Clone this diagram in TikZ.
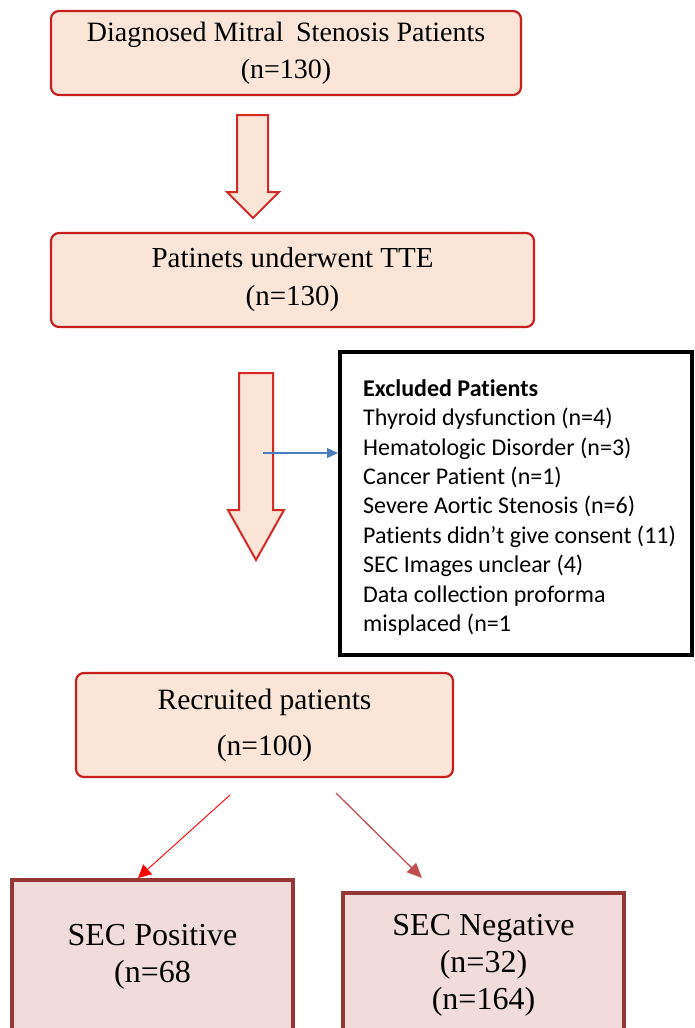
\documentclass[tikz,border=0pt]{standalone}
\usepackage{fontspec}
\setmainfont{Liberation Serif}
\newfontfamily\calibri[Ligatures=NoCommon]{Carlito}
\usetikzlibrary{arrows.meta}
\definecolor{boxred}{HTML}{C8201E}
\definecolor{peach}{HTML}{FBE5D6}
\definecolor{secborder}{HTML}{953735}
\definecolor{secfill}{HTML}{F2DCDB}
\definecolor{arrred}{HTML}{D42A26}
\definecolor{blueline}{HTML}{4A7EBB}
\definecolor{arrdark}{HTML}{C0504D}
\tikzset{
  stagebox/.style={draw=boxred, line width=2.2pt, fill=peach, rounded corners=8pt, align=center, inner sep=0pt},
  secbox/.style={draw=secborder, line width=4.5pt, fill=secfill, align=center, inner sep=0pt, font=\fontsize{32}{37}\selectfont},
  blockarrow/.style={draw=arrred, line width=2pt, fill=peach, line join=miter},
}
\begin{document}
\begin{tikzpicture}[x=1pt,y=-1pt]
\clip (0,0) rectangle (694,1028);
\fill[white] (0,0) rectangle (694,1028);

% stage boxes
\node[stagebox, minimum width=470pt, minimum height=84pt, font=\fontsize{28}{37}\selectfont] (diag) at (286,53)
  {Diagnosed Mitral\hspace{0.45em}Stenosis Patients\\(n=130)};
\node[stagebox, minimum width=483pt, minimum height=94pt, font=\fontsize{29}{38}\selectfont] (tte) at (292.5,280)
  {Patinets underwent TTE\\(n=130)};
\node[stagebox, minimum width=377pt, minimum height=104pt, font=\fontsize{29.5}{46}\selectfont] (recr) at (264.5,725)
  {Recruited patients\\(n=100)};

% block arrows
\path[blockarrow] (237,115) -- (268,115) -- (268,192) -- (279,192) -- (253,218) -- (227,192) -- (237,192) -- cycle;
\path[blockarrow] (239,373) -- (273,373) -- (273,510) -- (284,510) -- (256,560) -- (228,510) -- (239,510) -- cycle;

% excluded box
\node[draw=black, line width=4pt, fill=white, minimum width=352pt, minimum height=303pt, inner sep=0pt] (excl) at (516,503.5) {};
\node[anchor=west, align=left, inner sep=0pt, font=\calibri\fontsize{24}{29.4}\selectfont] (excltxt) at (363,507.5)
  {\textbf{Excluded Patients}\\
   Thyroid dysfunction (n=4)\\
   Hematologic Disorder (n=3)\\
   Cancer Patient (n=1)\\
   Severe Aortic Stenosis (n=6)\\
   Patients didn’t give consent (11)\\
   SEC Images unclear (4)\\
   Data collection proforma\\
   misplaced (n=1};

\coordinate (bstart) at (263,453);
\draw[blueline, line width=1.3pt, -{Triangle[length=11pt,width=10pt]}] (bstart) -- (bstart -| excl.west);

% SEC boxes
\node[secbox, minimum width=281pt, minimum height=153pt] (pos) at (152.5,956.5)
  {SEC Positive\\(n=68};
\node[secbox, minimum width=281pt, minimum height=144pt] (neg) at (483.5,965)
  {SEC Negative\\(n=32)\\(n=164)};

% connectors from recruited
\coordinate (ls) at (230,795);
\coordinate (le) at (138,878);
\coordinate (rs) at (336,793);
\coordinate (re) at (422,878);
\draw[red, line width=0.9pt, -{Triangle[length=13pt,width=13pt]}] (ls) -- (le);
\draw[arrdark, line width=1.3pt, -{Triangle[length=15pt,width=13pt]}] (rs) -- (re);
\end{tikzpicture}
\end{document}
